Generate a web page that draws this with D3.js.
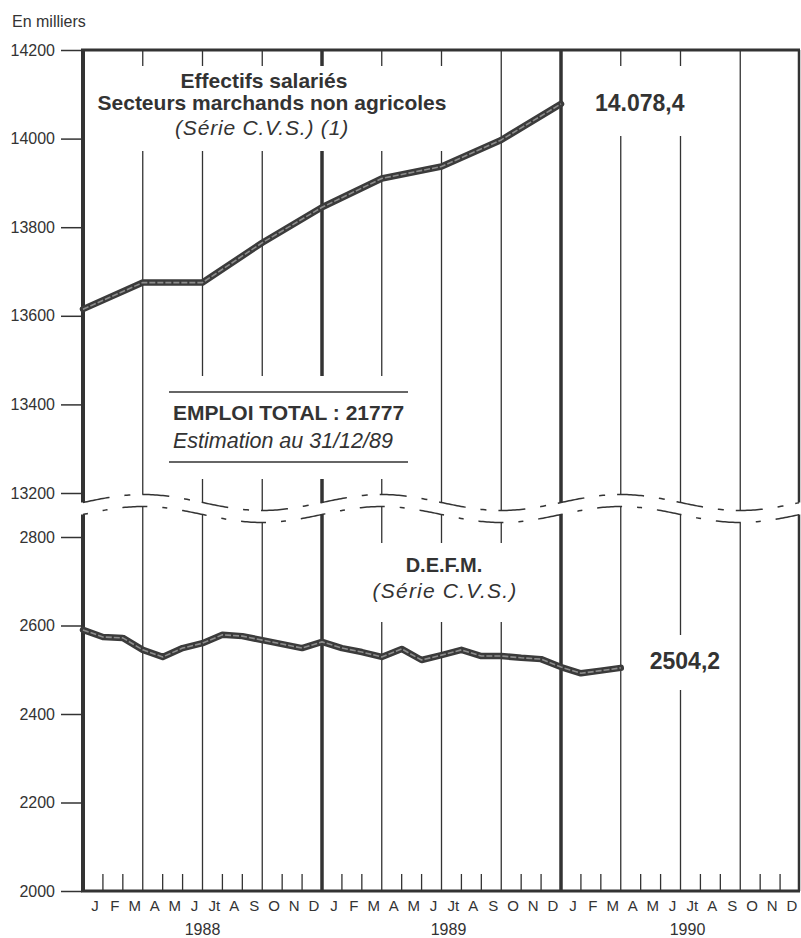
<!DOCTYPE html>
<html>
<head>
<meta charset="utf-8">
<script src="https://cdn.jsdelivr.net/npm/d3@7"></script>
<style>
  body { margin: 0; background: #fff; }
  svg { display: block; font-family: "Liberation Sans", Arial, Helvetica, sans-serif; }
</style>
</head>
<body>
<div id="chart"></div>
<script>
// month labels, years, ticks
const monthLabels = ["J","F","M","A","M","J","Jt","A","S","O","N","D"];
const yearLabels = ["1988","1989","1990"];
const topTicks = [13200, 13400, 13600, 13800, 14000, 14200];
const bottomTicks = [2000, 2200, 2400, 2600, 2800];

// Effectifs salariés, secteurs marchands non agricoles (quarter ends)
const effDates = ["1987-12","1988-03","1988-06","1988-09","1988-12","1989-03","1989-06","1989-09","1989-12"];
const effValues = [13615, 13675, 13675, 13765, 13845, 13910, 13937, 13997, 14078.4];

// D.E.F.M. (month ends)
const defmDates = ["1987-12","1988-01","1988-02","1988-03","1988-04","1988-05","1988-06","1988-07",
  "1988-08","1988-09","1988-10","1988-11","1988-12","1989-01","1989-02","1989-03","1989-04",
  "1989-05","1989-06","1989-07","1989-08","1989-09","1989-10","1989-11","1989-12","1990-01",
  "1990-02","1990-03"];
const defmValues = [2590, 2574, 2572, 2545, 2529, 2549, 2560, 2579, 2576, 2567, 2558, 2549, 2563,
  2549, 2540, 2529, 2547, 2522, 2533, 2545, 2531, 2531, 2527, 2524, 2506, 2492, 2498, 2504.2];

const width = 801, height = 938;
const ink = "#333";

// months since start of 1988, taken at the end of the given month
function monthEnd(s) {
  const p = s.split("-");
  return (+p[0] - 1988) * 12 + (+p[1]);
}

const x = d3.scaleLinear().domain([0, 36]).range([83, 800]);
const yTop = d3.scaleLinear().domain([13200, 14200]).range([493, 50]);
const yBot = d3.scaleLinear().domain([2000, 2800]).range([891, 537]);

// scale break wave (one swing per year)
function waveY(px, off) {
  const m = x.invert(px);
  return 502.5 - 8 * Math.cos(2 * Math.PI * (m - 3) / 12) + off;
}
const gapOff = 12;

const svg = d3.select("#chart").append("svg")
    .attr("width", width)
    .attr("height", height);

svg.append("rect").attr("width", width).attr("height", height).attr("fill", "#fff");

// grid: quarter lines, thicker at year ends
const quarters = d3.range(3, 36, 3);
const grid = svg.append("g").attr("stroke", ink);
grid.selectAll(".qtop")
    .data(quarters)
    .join("line")
    .attr("x1", d => x(d)).attr("x2", d => x(d))
    .attr("y1", 50)
    .attr("y2", d => waveY(x(d), 0))
    .attr("stroke-width", d => d % 12 === 0 ? 3.5 : 1.3);
grid.selectAll(".qbot")
    .data(quarters)
    .join("line")
    .attr("x1", d => x(d)).attr("x2", d => x(d))
    .attr("y1", d => waveY(x(d), gapOff))
    .attr("y2", 891)
    .attr("stroke-width", d => d % 12 === 0 ? 3.5 : 1.3);

// month ticks on the bottom axis
grid.selectAll(".mt")
    .data(d3.range(1, 36).filter(d => d % 3 !== 0))
    .join("line")
    .attr("x1", d => x(d)).attr("x2", d => x(d))
    .attr("y1", 874).attr("y2", 891)
    .attr("stroke-width", 1.3);

// white gaps behind the annotations
const gaps = [
  [125, 66, 330, 85],
  [588, 66, 114, 70],
  [165, 376, 247, 103],
  [365, 543, 155, 79],
  [640, 635, 92, 55]
];
svg.selectAll(".gap")
    .data(gaps)
    .join("rect")
    .attr("x", d => d[0]).attr("y", d => d[1])
    .attr("width", d => d[2]).attr("height", d => d[3])
    .attr("fill", "#fff");

// frame
const frame = svg.append("g").attr("stroke", ink).attr("fill", "none");
frame.append("line").attr("x1", x(0) - 2).attr("x2", x(36)).attr("y1", 50).attr("y2", 50).attr("stroke-width", 3);
frame.append("line").attr("x1", x(0) - 2).attr("x2", x(36)).attr("y1", 891).attr("y2", 891).attr("stroke-width", 3);
frame.append("line").attr("x1", x(0)).attr("x2", x(0)).attr("y1", 50).attr("y2", waveY(x(0), 0)).attr("stroke-width", 4);
frame.append("line").attr("x1", x(0)).attr("x2", x(0)).attr("y1", waveY(x(0), gapOff)).attr("y2", 891).attr("stroke-width", 4);
frame.append("line").attr("x1", x(36) - 1).attr("x2", x(36) - 1).attr("y1", 50).attr("y2", waveY(x(36), 0)).attr("stroke-width", 2.5);
frame.append("line").attr("x1", x(36) - 1).attr("x2", x(36) - 1).attr("y1", waveY(x(36), gapOff)).attr("y2", 891).attr("stroke-width", 2.5);

// break waves
const wavePts = d3.range(x(0), x(36) + 1, 2);
const waveLine = off => d3.line().x(d => d).y(d => waveY(d, off))(wavePts);
frame.append("path").attr("d", waveLine(0))
    .attr("stroke-width", 1.5).attr("stroke-dasharray", "27,15,6,12");
frame.append("path").attr("d", waveLine(gapOff))
    .attr("stroke-width", 1.5).attr("stroke-dasharray", "25,15,5,15").attr("stroke-dashoffset", 20);

// y axes
const yAxisTop = d3.axisLeft(yTop).tickValues(topTicks).tickSize(21).tickPadding(6).tickFormat(d3.format("d"));
const yAxisBot = d3.axisLeft(yBot).tickValues(bottomTicks).tickSize(21).tickPadding(6).tickFormat(d3.format("d"));
[yAxisTop, yAxisBot].forEach(a => {
  const g = svg.append("g").attr("transform", `translate(${x(0) - 1},0)`).call(a);
  g.attr("font-size", 16).attr("font-family", "Liberation Sans, Arial, sans-serif");
  g.select(".domain").remove();
  g.selectAll("line").attr("stroke", ink).attr("stroke-width", 1.5);
  g.selectAll("text").attr("fill", ink);
});

svg.append("text").attr("x", 12).attr("y", 27)
    .attr("font-size", 16).attr("fill", ink).text("En milliers");

// month and year labels
const monthData = d3.range(36).map(i => ({ i: i, label: monthLabels[i % 12] }));
svg.selectAll(".month")
    .data(monthData)
    .join("text")
    .attr("x", d => x(d.i + 0.5) + 2)
    .attr("y", 911)
    .attr("text-anchor", "middle")
    .attr("font-size", 15)
    .attr("fill", ink)
    .text(d => d.label);
svg.selectAll(".year")
    .data(yearLabels)
    .join("text")
    .attr("x", (d, i) => x(i * 12 + 6) + (i === 0 ? 0 : 7))
    .attr("y", 935)
    .attr("text-anchor", "middle")
    .attr("font-size", 16)
    .attr("fill", ink)
    .text(d => d);

// annotations
function label(txt, px, py, size, opts) {
  opts = opts || {};
  return svg.append("text").attr("x", px).attr("y", py)
      .attr("font-size", size)
      .attr("font-weight", opts.bold ? "bold" : null)
      .attr("font-style", opts.italic ? "italic" : null)
      .attr("letter-spacing", opts.ls || null)
      .attr("text-anchor", opts.anchor || "start")
      .attr("fill", ink)
      .text(txt);
}
label("Effectifs salariés", 264, 88, 21, { bold: true, anchor: "middle" });
label("Secteurs marchands non agricoles", 272, 110, 21, { bold: true, anchor: "middle" });
label("(Série C.V.S.) (1)", 262, 135, 21, { italic: true, anchor: "middle", ls: 0.8 });

svg.append("line").attr("x1", 169).attr("x2", 408).attr("y1", 392).attr("y2", 392).attr("stroke", ink).attr("stroke-width", 1.5);
svg.append("line").attr("x1", 169).attr("x2", 408).attr("y1", 462).attr("y2", 462).attr("stroke", ink).attr("stroke-width", 1.5);
label("EMPLOI TOTAL : 21777", 173, 420, 21, { bold: true });
label("Estimation au 31/12/89", 173, 448, 21.5, { italic: true });

label("D.E.F.M.", 444, 572, 20, { bold: true, anchor: "middle" });
label("(Série C.V.S.)", 445, 598, 21, { italic: true, anchor: "middle", ls: 1.2 });

const fmt = v => d3.format(",.1f")(v).replace(",", " ").replace(".", ",").replace(" ", ".");
const effLast = effValues[effValues.length - 1];
const defmLast = defmValues[defmValues.length - 1];
label(fmt(effLast), x(monthEnd(effDates[effDates.length - 1])) + 34, yTop(effLast) + 7, 23, { bold: true });
label(fmt(defmLast).replace(/^(\d)\./, "$1"), x(monthEnd(defmDates[defmDates.length - 1])) + 29, yBot(defmLast) + 1, 23, { bold: true });

// series
const effData = effDates.map((d, i) => ({ m: monthEnd(d), v: effValues[i] }));
const defmData = defmDates.map((d, i) => ({ m: monthEnd(d), v: defmValues[i] }));
const lineTop = d3.line().x(d => x(d.m)).y(d => yTop(d.v));
const lineBot = d3.line().x(d => x(d.m)).y(d => yBot(d.v));

[[effData, lineTop], [defmData, lineBot]].forEach(s => {
  svg.append("path").datum(s[0]).attr("d", s[1])
      .attr("fill", "none").attr("stroke", "#3b3b3b").attr("stroke-width", 6.5)
      .attr("stroke-linejoin", "round").attr("stroke-linecap", "round");
  svg.append("path").datum(s[0]).attr("d", s[1])
      .attr("fill", "none").attr("stroke", "#8d8d8d").attr("stroke-width", 1.6)
      .attr("stroke-linejoin", "round").attr("stroke-dasharray", "6,2");
});
</script>
</body>
</html>
